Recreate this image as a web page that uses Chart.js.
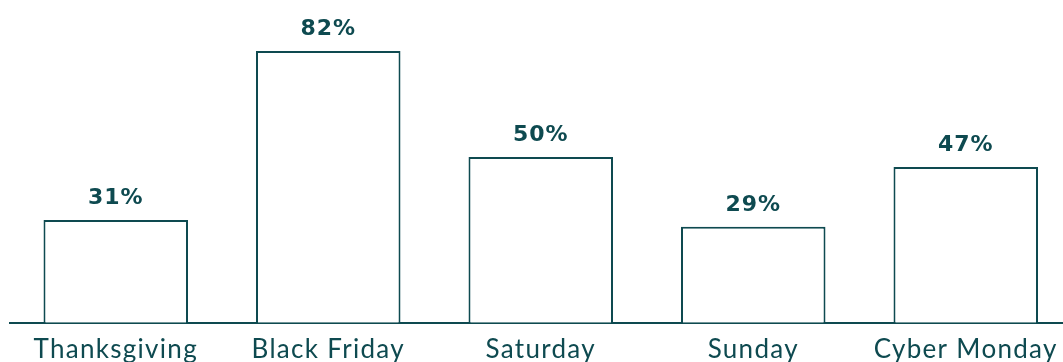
<!DOCTYPE html>
<html>
<head>
<meta charset="utf-8">
<script src="https://cdn.jsdelivr.net/npm/chart.js@4"></script>
<style>
  html, body { margin: 0; padding: 0; background: #fff; overflow: hidden; }
  #wrap { position: relative; width: 1072px; height: 362px; }
</style>
</head>
<body>
<div id="wrap"><canvas id="chart"></canvas></div>
<script>
const days = ['Thanksgiving', 'Black Friday', 'Saturday', 'Sunday', 'Cyber Monday'];
const shares = [31, 82, 50, 29, 47];
const ink = '#0e4a50';

// letter spacing for the category labels, reset before bars/values
const spacing = {
    id: 'spacing',
    beforeDraw(chart) { chart.ctx.letterSpacing = '1.3px'; },
    beforeDatasetsDraw(chart) { chart.ctx.letterSpacing = '0px'; }
};

// percentage labels above each bar
const valueLabels = {
    id: 'valueLabels',
    afterDatasetsDraw(chart) {
        const ctx = chart.ctx;
        const meta = chart.getDatasetMeta(0);
        ctx.save();
        ctx.font = 'bold 22px "DejaVu Sans"';
        ctx.letterSpacing = '1px';
        ctx.fillStyle = ink;
        ctx.textAlign = 'center';
        ctx.textBaseline = 'alphabetic';
        meta.data.forEach((bar, i) => {
            ctx.fillText(shares[i] + '%', bar.x, bar.y - 16);
        });
        ctx.restore();
    }
};

new Chart(document.getElementById('chart'), {
    type: 'bar',
    data: {
        labels: days,
        datasets: [{
            data: shares,
            backgroundColor: '#ffffff',
            borderColor: ink,
            borderWidth: 2,
            borderSkipped: 'bottom',
            barPercentage: 0.68,
            categoryPercentage: 1
        }]
    },
    options: {
        responsive: true,
        maintainAspectRatio: false,
        animation: false,
        layout: { padding: { left: 9.5, right: 0, top: 0, bottom: -14 } },
        plugins: { legend: { display: false }, tooltip: { enabled: false } },
        scales: {
            y: { display: false, min: 0, max: 97.4 },
            x: {
                grid: { display: false, drawTicks: false },
                border: { display: true, color: ink, width: 2 },
                ticks: {
                    color: ink,
                    padding: 11,
                    maxRotation: 0,
                    autoSkip: false,
                    font: { family: 'Lato', size: 26 }
                }
            }
        }
    },
    plugins: [spacing, valueLabels]
});
</script>
</body>
</html>
